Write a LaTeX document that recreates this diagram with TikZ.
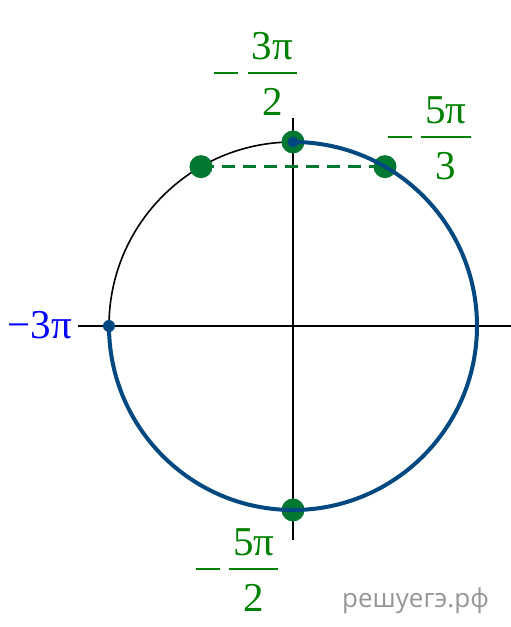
\documentclass[tikz,border=0pt]{standalone}
\usepackage{fontspec}
\usetikzlibrary{calc}
\newfontfamily\lblfont{Liberation Serif}
\newfontfamily\wmfont{Open Sans}
\definecolor{dotgreen}{RGB}{0,120,50}
\definecolor{lblgreen}{RGB}{0,128,0}
\definecolor{arcblue}{RGB}{0,72,128}
\tikzset{
  lbl/.style={font=\lblfont\fontsize{41}{49}\selectfont,inner sep=0pt,text=lblgreen},
  fracbar/.style={lblgreen,line width=1.8pt},
  gdot/.style={fill=dotgreen},
  bdot/.style={fill=arcblue}
}
\newcommand\negfrac[4]{%
  \coordinate (#1) at #2;
  \node[lbl] (#1num) at ($(#1)+(0,27)$) {#3};
  \node[lbl] (#1den) at ($(#1)+(0,-29)$) {#4};
  \draw[fracbar] ($(#1)+(-24.5,0)$) -- ($(#1)+(24.5,0)$);
  \draw[fracbar] ($(#1)+(-58,0)$) -- ($(#1)+(-34,0)$);
}
\begin{document}
\begin{tikzpicture}[x=1pt,y=1pt]
    \useasboundingbox (-293,-301) rectangle (218,326);
    \coordinate (O) at (0,0);
    \coordinate (P90) at (90:184);
    \coordinate (P60) at (60:184);
    \coordinate (P120) at (120:184);
    \coordinate (P180) at (180:184);
    \coordinate (P270) at (270:184);
    \draw[line width=1.6pt] (-215,0) -- (218,0);
    \draw[line width=1.6pt] (0,-214) -- (0,208);
    \draw[line width=1.6pt] (O) circle (184);
    \draw[dotgreen,dashed,line width=2.8pt,dash pattern=on 13pt off 8pt] (P120) -- (P60);
    \fill[gdot] (P90) circle (11.5);
    \fill[gdot] (P60) circle (11.5);
    \fill[gdot] (P120) circle (11.5);
    \fill[gdot] (P270) circle (11.5);
    \draw[arcblue,line width=4pt] (P180) arc (180:450:184);
    \fill[bdot] (P90) circle (5.5);
    \fill[bdot] (P180) circle (6);
    \node[lbl,text=blue,anchor=east] (m3pi) at (-221,1) {−3π};
    \negfrac{a}{(-20.5,253)}{3π}{2}
    \negfrac{b}{(153,189)}{5π}{3}
    \negfrac{c}{(-39,-243)}{5π}{2}
    \node[font=\wmfont\fontsize{26}{30}\selectfont,text={rgb,255:red,150;green,150;blue,150},anchor=base west,inner sep=0pt] (wm) at (49,-281) {решуегэ.рф};
\end{tikzpicture}
\end{document}
